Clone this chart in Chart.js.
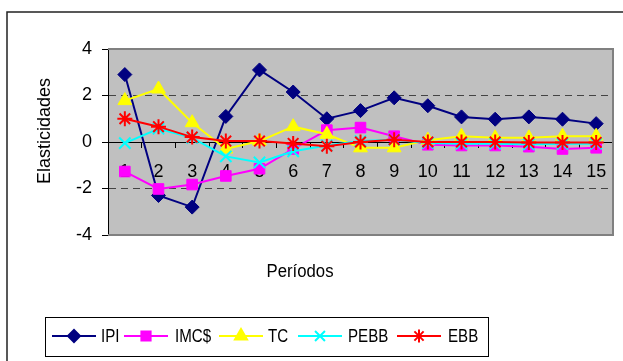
<!DOCTYPE html>
<html>
<head>
<meta charset="utf-8">
<script src="https://cdn.jsdelivr.net/npm/chart.js@4.4.0/dist/chart.umd.min.js"></script>
<style>
  html, body { margin: 0; padding: 0; background: #fff; }
  #wrap { width: 623px; height: 361px; }
</style>
</head>
<body>
<div id="wrap"><canvas id="myChart" width="623" height="361"></canvas></div>
<script>
// data
const periods = ['1', '2', '3', '4', '5', '6', '7', '8', '9', '10', '11', '12', '13', '14', '15'];
const seriesNames = ['IPI', 'IMC$', 'TC', 'PEBB', 'EBB'];
const ipi  = [2.9, -2.3, -2.8, 1.1, 3.1, 2.15, 1.0, 1.35, 1.9, 1.56, 1.08, 0.98, 1.08, 0.98, 0.79];
const imc  = [-1.27, -2.02, -1.83, -1.46, -1.15, -0.3, 0.51, 0.62, 0.25, -0.12, -0.15, -0.15, -0.2, -0.3, -0.25];
const tc   = [1.78, 2.28, 0.83, -0.3, 0.04, 0.66, 0.33, -0.25, -0.25, 0.08, 0.25, 0.18, 0.18, 0.25, 0.25];
const pebb = [-0.05, 0.57, 0.18, -0.62, -0.88, -0.4, -0.15, 0.04, 0.1, -0.04, -0.07, -0.07, -0.1, -0.08, -0.07];
const ebb  = [1.0, 0.66, 0.21, 0.04, 0.04, -0.06, -0.18, 0.0, 0.1, 0.0, 0.0, 0.0, -0.02, -0.02, -0.02];
const yTicks = [-4, -2, 0, 2, 4];

const FONT = "'Liberation Sans', Arial, sans-serif";

const colors = ['#000080', '#ff00ff', '#ffff00', '#00ffff', '#ff0000'];
const styles = ['rectRot', 'rect', 'triangle', 'crossRot', 'star'];
const radii = [7, 7.5, 8, 8, 7.5];
const values = [ipi, imc, tc, pebb, ebb];

const datasets = seriesNames.map((name, i) => ({
    label: name,
    data: values[i],
    borderColor: colors[i],
    backgroundColor: colors[i],
    pointBackgroundColor: colors[i],
    pointBorderColor: colors[i],
    pointStyle: styles[i],
    pointRadius: radii[i],
    pointBorderWidth: (styles[i] === 'crossRot' || styles[i] === 'star') ? 2 : 1,
    borderWidth: 2,
    tension: 0,
    order: seriesNames.length - i
}));

function marker(ctx, style, r, bw, x, y, color) {
    ctx.save();
    ctx.fillStyle = color;
    ctx.strokeStyle = color;
    if (Chart.helpers && Chart.helpers.drawPoint) {
        Chart.helpers.drawPoint(ctx, {pointStyle: style, radius: r, rotation: 0, borderWidth: bw}, x, y);
    }
    ctx.restore();
}

// condensed text, like the original Excel rendering
function narrowText(ctx, text, x, y, sx) {
    ctx.save();
    ctx.translate(x, y);
    ctx.scale(sx, 1);
    ctx.fillText(text, 0, 0);
    ctx.restore();
}

const decor = {
    id: 'decor',
    beforeDraw(chart) {
        const {ctx, chartArea: a} = chart;
        ctx.save();
        ctx.fillStyle = '#c0c0c0';
        ctx.fillRect(a.left, a.top, a.right - a.left, a.bottom - a.top);
        ctx.restore();
    },
    beforeDatasetsDraw(chart) {
        const {ctx, chartArea: a} = chart;
        ctx.save();
        ctx.strokeStyle = '#808080';
        ctx.lineWidth = 2;
        ctx.beginPath();
        ctx.moveTo(a.left, a.top);
        ctx.lineTo(a.right, a.top);
        ctx.lineTo(a.right, a.bottom);
        ctx.lineTo(a.left, a.bottom);
        ctx.stroke();
        ctx.restore();
    },
    afterDraw(chart) {
        const ctx = chart.ctx;
        ctx.save();
        // outer frame
        ctx.strokeStyle = '#222';
        ctx.lineWidth = 1.5;
        ctx.beginPath();
        ctx.moveTo(7, 361);
        ctx.lineTo(7, 12);
        ctx.lineTo(623, 12);
        ctx.stroke();

        ctx.fillStyle = '#000';
        ctx.font = '18px ' + FONT;
        ctx.textAlign = 'center';
        ctx.textBaseline = 'middle';
        narrowText(ctx, 'Períodos', 300, 272, 0.93);

        ctx.save();
        ctx.translate(45, 131);
        ctx.rotate(-Math.PI / 2);
        ctx.fillText('Elasticidades', 0, 0);
        ctx.restore();

        // legend
        ctx.fillStyle = '#fff';
        ctx.fillRect(45, 317, 443, 39);
        ctx.strokeStyle = '#000';
        ctx.lineWidth = 1;
        ctx.strokeRect(45.5, 317.5, 443, 39);
        const lineX = [52, 124, 219, 298, 397];
        const textX = [101, 175, 268, 348, 448];
        const ly = 336;
        ctx.textAlign = 'left';
        ctx.font = '18px ' + FONT;
        seriesNames.forEach((name, i) => {
            const x0 = lineX[i];
            ctx.strokeStyle = colors[i];
            ctx.lineWidth = 2;
            ctx.beginPath();
            ctx.moveTo(x0, ly);
            ctx.lineTo(x0 + 44, ly);
            ctx.stroke();
            marker(ctx, styles[i], radii[i] - 1, datasets[i].pointBorderWidth, x0 + 22, ly, colors[i]);
            ctx.fillStyle = '#000';
            narrowText(ctx, name, textX[i], ly + 1, 0.84);
        });
        ctx.restore();
    }
};

new Chart(document.getElementById('myChart'), {
    type: 'line',
    data: { labels: periods, datasets: datasets },
    options: {
        responsive: false,
        animation: false,
        layout: { padding: { left: 0, top: 49, right: 10, bottom: 126 } },
        plugins: {
            legend: { display: false },
            tooltip: { enabled: false },
            title: { display: false }
        },
        scales: {
            x: {
                type: 'category',
                position: { y: 0 },
                offset: true,
                grid: { offset: true, drawOnChartArea: false, color: '#000', tickLength: 5, lineWidth: 1 },
                border: { color: '#000', width: 1 },
                ticks: { color: '#000', font: { family: FONT, size: 18 }, padding: 14, maxRotation: 0, autoSkip: false }
            },
            y: {
                min: -4,
                max: 4,
                afterFit(scale) { scale.width = 108; },
                afterBuildTicks(scale) { scale.ticks = yTicks.map(v => ({ value: v })); },
                grid: {
                    color: c => (c.tick && Math.abs(c.tick.value) === 2) ? '#444' : 'rgba(0,0,0,0)',
                    tickColor: '#000',
                    tickLength: 6,
                    lineWidth: 1
                },
                border: { color: '#000', width: 1, dash: [7, 5] },
                ticks: { color: '#000', font: { family: FONT, size: 18 }, padding: 10 }
            }
        }
    },
    plugins: [decor]
});
</script>
</body>
</html>
